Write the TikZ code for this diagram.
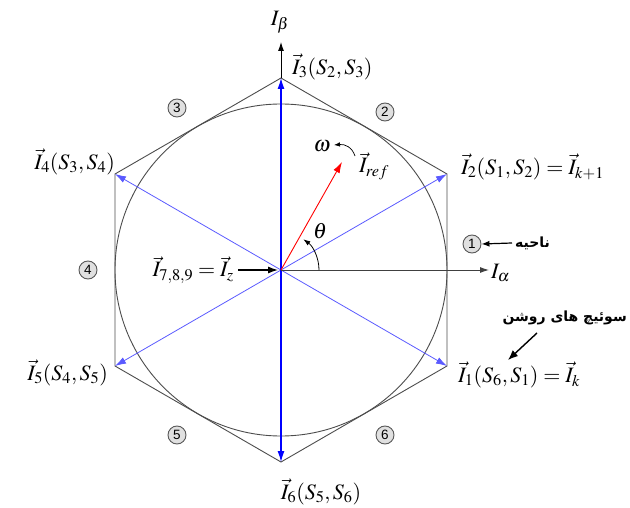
\documentclass[tikz,border=0pt]{standalone}
\usepackage{mathptmx}
\usepackage{fontspec}
\newfontfamily\arabicfont[Script=Arabic]{DejaVu Sans}
\newfontfamily\numfont{Liberation Sans}
\TeXXeTstate=1
\usetikzlibrary{arrows.meta,calc}
\definecolor{lblue}{RGB}{90,90,255}
\definecolor{vblue}{RGB}{0,0,255}
\begin{document}
\begin{tikzpicture}[x=1pt,y=-1pt,
  lab/.style={font=\fontsize{22}{26}\selectfont, inner sep=0pt},
  num/.style={circle, draw=black!65, fill=black!12, minimum size=18pt, inner sep=0pt, line width=0.9pt, font=\numfont\fontsize{13.5}{14}\selectfont},
  ar/.style={font=\arabicfont\bfseries\fontsize{14}{16}\selectfont, inner sep=0pt},
  hexline/.style={draw=black!70, line width=0.9pt},
  vecarrow/.style={line width=0.8pt, -{Latex[length=11pt,width=7pt]}},
  blk/.style={-{Latex[length=9pt,width=6pt]}},
]
\useasboundingbox (0,0) rectangle (630,508);
\coordinate (O) at (281,270);
\coordinate (V1) at (447,366);
\coordinate (V2) at (447,174);
\coordinate (V3) at (281,78);
\coordinate (V4) at (115,174);
\coordinate (V5) at (115,366);
\coordinate (V6) at (281,462);
% circle and hexagon
\draw[draw=black!70, line width=0.9pt] (O) circle[radius=166];
\draw[hexline] (V1) -- (V2) -- (V3) -- (V4) -- (V5) -- (V6) -- cycle;
% blue vectors
\draw[vecarrow, lblue] (O) -- (V1);
\draw[vecarrow, lblue] (O) -- (V2);
\draw[vecarrow, lblue] (O) -- (V4);
\draw[vecarrow, lblue] (O) -- (V5);
\draw[vecarrow, vblue, line width=1.25pt] (O) -- (V3);
\draw[vecarrow, vblue, line width=1.25pt] (O) -- (V6);
% axes
\coordinate (Ax) at (489,270);
\coordinate (By) at (281,42);
\draw[black!75, line width=0.9pt, blk] (O) -- (Ax);
\draw[black, line width=0.9pt, blk] (V3) -- (By);
% reference vector
\coordinate (R) at (342,162);
\draw[red, line width=0.9pt, -{Latex[length=11pt,width=7pt]}] (O) -- (R);
% theta arc
\draw[black, line width=0.8pt, -{Latex[length=7pt,width=5pt]}] ($(O)+(38,0)$) arc[start angle=0, end angle=-54, radius=38];
% labels
\node[lab] (ib) at (280,22) {$I_\beta$};
\node[lab, anchor=west] (ia) at (491,273) {$I_\alpha$};
\node[lab, anchor=west] (l3) at (292,67) {$\vec I_3(S_2,S_3)$};
\node[lab, anchor=west] (l2) at (461,167) {$\vec I_2(S_1,S_2)=\vec I_{k+1}$};
\node[lab, anchor=east] (l4) at (115,162) {$\vec I_4(S_3,S_4)$};
\node[lab, anchor=east] (l5) at (108,373) {$\vec I_5(S_4,S_5)$};
\node[lab, anchor=west] (l1) at (458,375) {$\vec I_1(S_6,S_1)=\vec I_k$};
\node[lab] (l6) at (321,492) {$\vec I_6(S_5,S_6)$};
\node[lab, anchor=east] (lz) at (234,270) {$\vec I_{7,8,9}=\vec I_z$};
\node[lab] (th) at (320,231) {$\theta$};
\node[lab] (om) at (322,146) {$\omega$};
\node[lab] (ir) at (374,166) {$\vec I_{ref}$};
% z arrow
\draw[black, line width=1.2pt, -{Latex[length=10pt,width=7pt]}] ([xshift=4pt]lz.east) -- ([xshift=-3pt]O);
% omega arrow
\coordinate (wa) at (355,156);
\coordinate (wb) at (334,145);
\draw[black, line width=0.7pt, -{Latex[length=6pt,width=4.5pt]}] (wa) .. controls (352,147) and (345,144) .. (wb);
% sector numbers
\node[num] (n1) at (472,244) {1};
\node[num] (n2) at (385,112) {2};
\node[num] (n3) at (177,108) {3};
\node[num] (n4) at (88,270) {4};
\node[num] (n5) at (177,435) {5};
\node[num] (n6) at (385,435) {6};
% persian labels
\node[ar, anchor=west] (nah) at (515,243) {\beginR ناحیه\endR};
\draw[black, line width=1.2pt, -{Latex[length=8pt,width=6pt]}] ([xshift=-3pt]nah.west) -- (n1.east);
\node[ar, anchor=east] (sw) at (627,318) {\beginR سوئیچ های روشن\endR};
\coordinate (swa) at (537,333);
\coordinate (swb) at (508,360);
\draw[black, line width=1.4pt, -{Latex[length=10pt,width=8pt]}] (swa) -- (swb);
\end{tikzpicture}
\end{document}
